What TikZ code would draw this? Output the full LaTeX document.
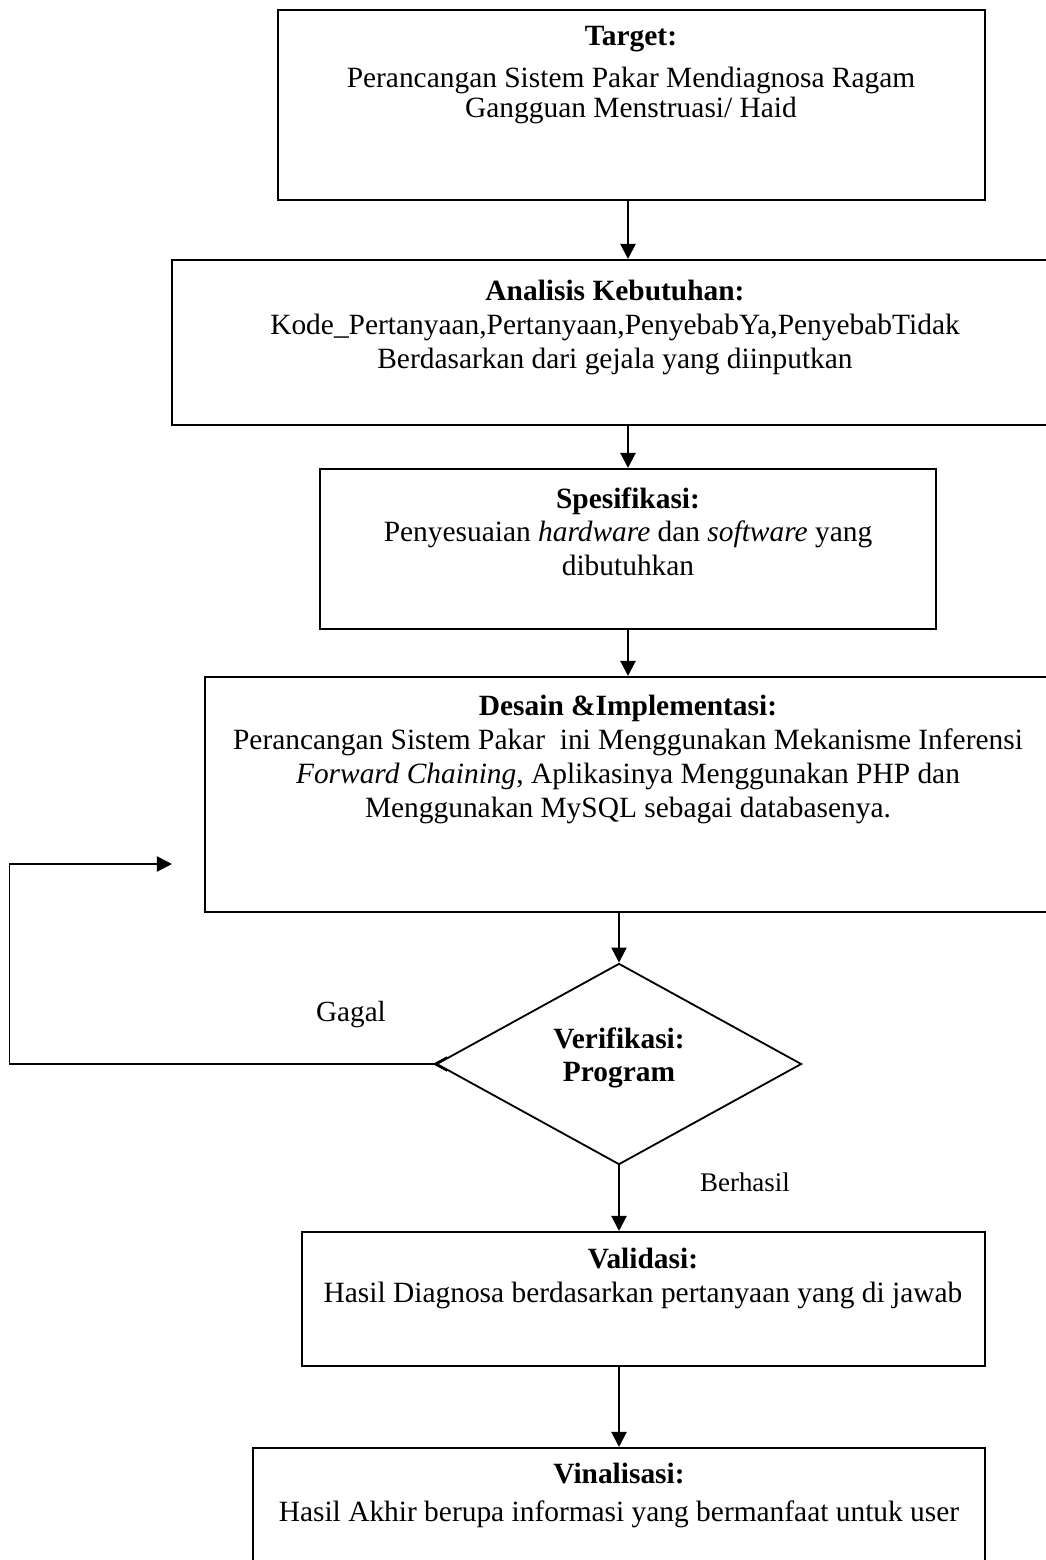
\documentclass[tikz,border=0pt]{standalone}
\usepackage{fontspec}
\setmainfont{Liberation Serif}
\usetikzlibrary{shapes.geometric, arrows.meta, positioning, fit}

\tikzset{
  box/.style={draw, line width=0.9pt, inner sep=0pt},
  txt/.style={align=center, inner sep=0pt, anchor=north, font=\fontsize{12.9}{14.8}\selectfont},
  flow/.style={-{Triangle[length=6.6pt,width=6.6pt]}, line width=0.9pt},
}

\begin{document}
\begin{tikzpicture}[x=0.4386pt, y=-0.4386pt]
\useasboundingbox (0,0) rectangle (1046,1560);
% kotak tahapan
\node[box, fit={(278,10) (985,200)}] (target) {};
\node[box, fit={(172,260) (1070,425)}] (analisis) {};
\node[box, fit={(320,469) (936,629)}] (spek) {};
\node[box, fit={(205,677) (1070,912)}] (desain) {};
\node[box, diamond, line width=0.8pt, minimum width=160.1pt, minimum height=88.2pt] (verif) at (619,1064) {};
\node[box, fit={(302,1232) (985,1366)}] (valid) {};
\node[box, fit={(253,1448) (985,1590)}] (vinal) {};

% isi kotak
\node[txt, font=\fontsize{12.9}{13.2}\selectfont] (target-txt) at (631,26) {\textbf{Target:}\\[5pt]Perancangan Sistem Pakar Mendiagnosa Ragam\\Gangguan Menstruasi/ Haid};
\node[txt] (analisis-txt) at (615,280) {\textbf{Analisis Kebutuhan:}\\Kode\_Pertanyaan,Pertanyaan,PenyebabYa,PenyebabTidak\\Berdasarkan dari gejala yang diinputkan};
\node[txt] (spek-txt) at (628,487) {\textbf{Spesifikasi:}\\Penyesuaian \textit{hardware} dan \textit{software} yang\\dibutuhkan};
\node[txt] (desain-txt) at (628,695) {\textbf{Desain \&Implementasi:}\\Perancangan Sistem Pakar\ \ ini Menggunakan Mekanisme Inferensi\\\textit{Forward Chaining}, Aplikasinya Menggunakan PHP dan\\Menggunakan MySQL sebagai databasenya.};
\node[txt] (verif-txt) at (619,1027) {\textbf{Verifikasi:}\\\textbf{Program}};
\node[txt] (valid-txt) at (643,1248) {\textbf{Validasi:}\\Hasil Diagnosa berdasarkan pertanyaan yang di jawab};
\node[txt, font=\fontsize{12.9}{16.5}\selectfont] (vinal-txt) at (619,1463) {\textbf{Vinalisasi:}\\Hasil Akhir berupa informasi yang bermanfaat untuk user};

% label cabang
\node[font=\fontsize{12.8}{14}\selectfont] (gagal) at (351,1015) {Gagal};
\node[font=\fontsize{11.8}{13}\selectfont] (berhasil) at (745,1182) {Berhasil};

% alur
\draw[flow] (spek.north |- target.south) -- (spek.north |- analisis.north);
\draw[flow] (spek.north |- analisis.south) -- (spek.north);
\draw[flow] (spek.south) -- (spek.south |- desain.north);
\draw[flow] (verif.north |- desain.south) -- (verif.north);
\draw[flow] (verif.south) -- (verif.south |- valid.north);
\draw[flow] (verif.south |- valid.south) -- (verif.south |- vinal.north);

% kembali bila gagal
\coordinate (balik) at (172,864);
\draw[{Straight Barb[reversed,length=5.5pt,width=6pt]}-{Triangle[length=6.6pt,width=6.6pt]}, line width=0.8pt, shorten <=-5.5pt]
  (verif.west) -- ++(-426,0) |- (balik);
\end{tikzpicture}
\end{document}
